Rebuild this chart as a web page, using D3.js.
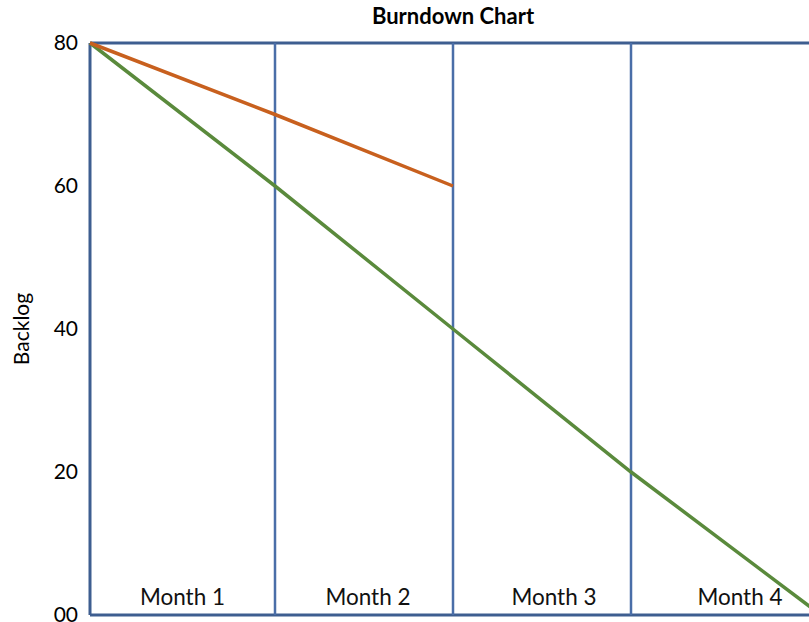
<!DOCTYPE html>
<html><head><meta charset="utf-8">
<script src="https://cdn.jsdelivr.net/npm/d3@7"></script>
<style>body{margin:0;background:#fff;}svg{display:block;font-family:Lato,"Open Sans",sans-serif;}</style>
</head><body>
<script>
const months = ["Month 1","Month 2","Month 3","Month 4"];
const steps = [0,1,2,3,4];
const idealBacklog = [80,60,40,20,0];
const actualSteps = [0,1,2];
const actualBacklog = [80,70,60];
const yTicks = [0,20,40,60,80];

const W = 809, H = 622;
const FONT = "Lato,'Open Sans',sans-serif";
const svg = d3.select("body").append("svg").attr("width",W).attr("height",H);

const x = d3.scaleLinear().domain([0,1,3,4]).range([90,275,631,821]);
const xLabel = d3.scaleLinear().domain([0,1,4]).range([90,275,833]);
const y = d3.scaleLinear().domain([0,80]).range([615,43]);

// title
svg.append("text").attr("x",453).attr("y",24).attr("text-anchor","middle")
  .attr("font-weight","bold").attr("font-size",22).attr("fill","#000").text("Burndown Chart");

// y label
svg.append("text").attr("transform","translate(29,329) rotate(-90)").attr("text-anchor","middle")
  .attr("font-size",21).attr("fill","#000").text("Backlog");

// y axis tick labels
const yAxis = d3.axisLeft(y).tickValues(yTicks).tickFormat(d3.format("02d")).tickSize(0).tickPadding(12);
const ga = svg.append("g").attr("transform","translate(90,0)").call(yAxis);
ga.select(".domain").remove();
ga.selectAll("text").attr("font-size",21).attr("fill","#000").attr("font-family",FONT);

// frame & gridlines
const gridColor = "#4a6ea8";
svg.append("line").attr("x1",x(0)).attr("x2",W).attr("y1",y(80)).attr("y2",y(80))
  .attr("stroke","#3e5e90").attr("stroke-width",3);
svg.append("line").attr("x1",x(0)).attr("x2",W).attr("y1",y(0)).attr("y2",y(0))
  .attr("stroke","#3e5e90").attr("stroke-width",3);
svg.selectAll("line.v").data(steps).enter().append("line").attr("class","v")
  .attr("x1",d=>x(d)).attr("x2",d=>x(d)).attr("y1",y(80)).attr("y2",y(0))
  .attr("stroke",(d,i)=>i===0?"#3e5e90":gridColor).attr("stroke-width",(d,i)=>i===0?3:2.5);

// month labels
svg.selectAll("text.m").data(months).enter().append("text").attr("class","m")
  .attr("x",(d,i)=>xLabel(i+0.5)).attr("y",605).attr("text-anchor","middle")
  .attr("font-size",22.5).attr("fill","#111").text(d=>d);

// lines
const line = d3.line().x(d=>x(d[0])).y(d=>y(d[1]));
svg.append("path").datum(steps.map((s,i)=>[s,idealBacklog[i]])).attr("d",line)
  .attr("fill","none").attr("stroke","#5a8a3c").attr("stroke-width",3.5);
svg.append("path").datum(actualSteps.map((s,i)=>[s,actualBacklog[i]])).attr("d",line)
  .attr("fill","none").attr("stroke","#c8601e").attr("stroke-width",3.5);
</script>
</body></html>
